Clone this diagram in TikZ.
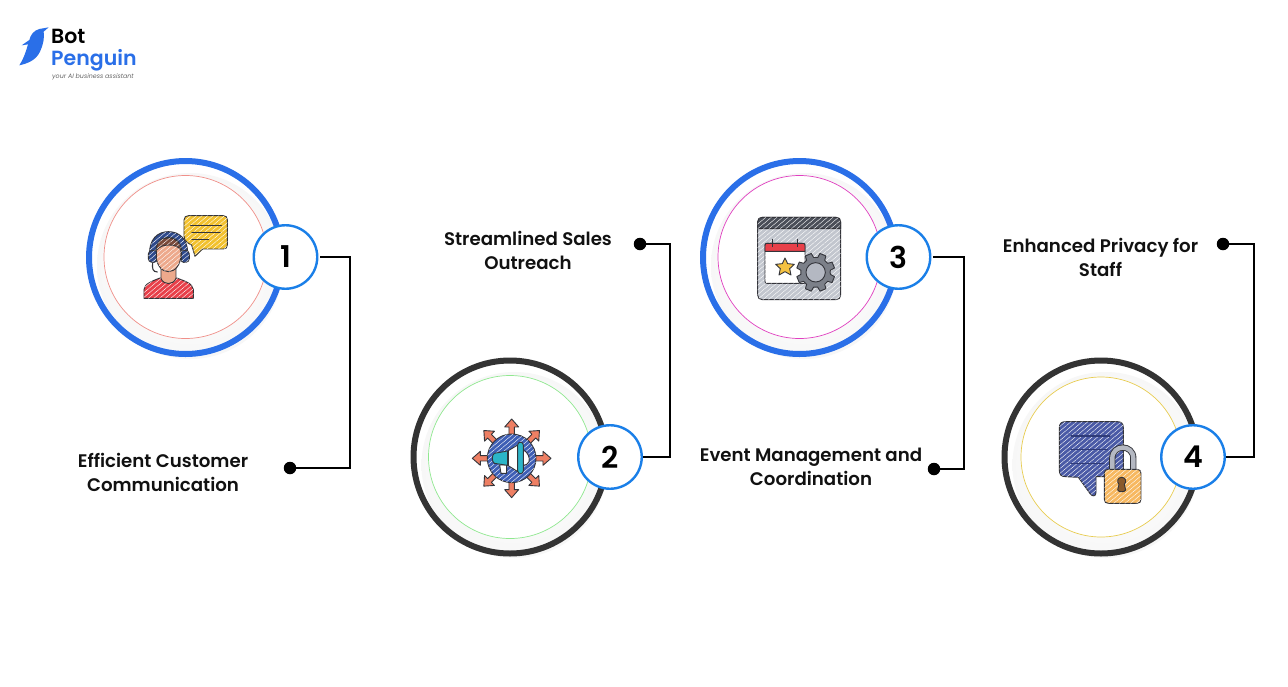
\documentclass[tikz,border=0pt]{standalone}
\usepackage{fontspec}
\setmainfont{Poppins SemiBold}
\newfontfamily\semi{Poppins SemiBold}
\newfontfamily\logoit{Poppins}[ItalicFont={* Italic}]
\usetikzlibrary{patterns.meta}
\definecolor{bpblue}{HTML}{2A6FE8}
\definecolor{ringdark}{HTML}{333333}
\definecolor{badgeblue}{HTML}{1A7FE8}
\definecolor{inkc}{HTML}{33343A}
\definecolor{labelc}{HTML}{111111}
\definecolor{cyellow}{HTML}{F2C12E}
\definecolor{cred}{HTML}{E8404A}
\definecolor{cnavy}{HTML}{2E4A8C}
\definecolor{cpeach}{HTML}{EDA98C}
\definecolor{cbrown}{HTML}{7A4A3A}
\definecolor{ccoral}{HTML}{EE7F63}
\definecolor{cglobe}{HTML}{3F5FB5}
\definecolor{cteal}{HTML}{2BB5C8}
\definecolor{cwin}{HTML}{C2C6CE}
\definecolor{chead}{HTML}{4A4E58}
\definecolor{cgear}{HTML}{7C8089}
\definecolor{cgearin}{HTML}{B4B8C2}
\definecolor{cstar}{HTML}{F5C242}
\definecolor{cbub}{HTML}{4A5AA6}
\definecolor{cbubline}{HTML}{2F3B78}
\definecolor{clock}{HTML}{F7B860}
\definecolor{ckey}{HTML}{8A5A2B}
\definecolor{cin1}{HTML}{F0908A}
\definecolor{cin2}{HTML}{90E890}
\definecolor{cin3}{HTML}{E040C0}
\definecolor{cin4}{HTML}{E8CC50}
\pgfdeclareradialshading{ringshade}{\pgfpoint{0bp}{0bp}}{color(0bp)=(white);color(41bp)=(black!5);color(45bp)=(black!8);color(48bp)=(black!3);color(50bp)=(white)}
\tikzset{
  ringbase/.style={circle,line width=6pt,minimum size=193pt,inner sep=0pt,fill=none},
  shadowdisk/.style={shading=ringshade,draw=none},
  innerdisk/.style={circle,line width=.7pt,minimum size=163pt,inner sep=0pt,fill=white},
  badge/.style={circle,draw=badgeblue,line width=2.4pt,fill=white,minimum size=63.5pt,inner sep=0pt,
     font=\semi\fontsize{30}{31}\selectfont,text=black},
  dotend/.style={circle,fill=black,minimum size=12.5pt,inner sep=0pt},
  conn/.style={draw=black,line width=1.8pt,line join=miter},
  lab/.style={align=center,text=labelc,inner sep=0pt,font=\fontsize{18.2}{24}\selectfont},
  sketch/.style={draw=inkc,line width=.9pt,line join=round,fill=#1,
     postaction={pattern={Lines[angle=40,distance=3.6pt,line width=.4pt]},pattern color=white}},
  solidsk/.style={draw=inkc,line width=.9pt,line join=round,fill=#1},
  stroke/.style={draw=inkc,line width=1.1pt,line cap=round},
}
\begin{document}
\begin{tikzpicture}[x=1pt,y=-1pt]
\useasboundingbox (0,0) rectangle (1288,686);
\fill[white] (0,0) rectangle (1288,686);

% logo
\begin{scope}[shift={(0,10)},x=.3333pt,y=-.3333pt]
\fill[bpblue] (146,52) -- (118,57) .. controls (100,62) and (92,75) .. (88,90)
  -- (65,106) -- (84,103) .. controls (78,125) and (70,148) .. (58,166)
  .. controls (85,160) and (108,150) .. (120,125) .. controls (130,105) and (134,80) .. (131,65) -- cycle;
\end{scope}
\node[anchor=base west,inner sep=0pt,text=black,font=\semi\fontsize{20.5}{21}\selectfont] (logoA) at (51,43) {Bot};
\node[anchor=base west,inner sep=0pt,text=bpblue,font=\semi\fontsize{20.5}{21}\selectfont] (logoB) at (51,65.5) {Penguin};
\node[anchor=base west,inner sep=0pt,text=black!60,font=\logoit\itshape\fontsize{6.3}{7}\selectfont] (logoC) at (52,78.5) {your AI business assistant};

% group 1
\shade[shadowdisk] (190,266) circle[radius=93];
\node[ringbase,draw=bpblue] (r1) at (185.5,257.5) {};
\node[innerdisk,draw=cin1] (i1) at (185.5,257) {};
% group 2
\shade[shadowdisk] (514.5,465) circle[radius=93];
\node[ringbase,draw=ringdark] (r2) at (510,457) {};
\node[innerdisk,draw=cin2] (i2) at (510,457) {};
% group 3
\shade[shadowdisk] (804,266) circle[radius=93];
\node[ringbase,draw=bpblue] (r3) at (799.5,257.5) {};
\node[innerdisk,draw=cin3] (i3) at (799.5,257) {};
% group 4
\shade[shadowdisk] (1105.5,465) circle[radius=93];
\node[ringbase,draw=ringdark] (r4) at (1101,457) {};
\node[innerdisk,draw=cin4,minimum size=160pt] (i4) at (1101,457) {};

% icon 1
\begin{scope}[shift={(80,150)},x=.3333pt,y=-.3333pt]
\path[sketch=cyellow] (326,197) -- (430,197) .. controls (438,197) and (442,201) .. (442,209) -- (442,285)
  .. controls (442,293) and (438,297) .. (430,297) -- (368,297) -- (345,319) -- (335,285) .. controls (322,280) and (312,270) .. (312,258)
  -- (312,210) .. controls (312,201) and (318,197) .. (326,197) -- cycle;
\draw[stroke] (332,226) -- (424,226);
\draw[stroke] (336,248) -- (420,248);
\draw[stroke] (336,268) -- (386,268);
\path[sketch=cred] (192,445) -- (192,418) .. controls (194,400) and (220,392) .. (240,384)
  -- (290,384) .. controls (312,392) and (338,400) .. (340,418) -- (340,445) -- cycle;
\path[solidsk=cpeach] (243,345) -- (243,385) .. controls (250,406) and (280,406) .. (288,385) -- (288,345) -- cycle;
\path[sketch=cnavy] (209,320) .. controls (205,265) and (235,245) .. (265,245) .. controls (297,245) and (326,265) .. (323,320)
  -- (307,320) .. controls (307,280) and (290,262) .. (265,262) .. controls (240,262) and (226,280) .. (226,320) -- cycle;
\path[sketch=cpeach] (265,268) .. controls (290,268) and (304,285) .. (303,315) .. controls (302,345) and (285,365) .. (265,365)
  .. controls (245,365) and (229,345) .. (228,315) .. controls (227,285) and (240,268) .. (265,268) -- cycle;
\path[sketch=cbrown] (230,300) .. controls (228,275) and (245,264) .. (265,264) .. controls (288,264) and (303,278) .. (303,300)
  .. controls (290,280) and (245,280) .. (230,300) -- cycle;
\path[sketch=cnavy] (205,312) .. controls (205,302) and (222,298) .. (229,304) -- (229,334) .. controls (222,340) and (205,338) .. (205,326) -- cycle;
\path[sketch=cnavy] (328,312) .. controls (328,302) and (311,298) .. (304,304) -- (304,334) .. controls (311,340) and (328,338) .. (328,326) -- cycle;
\draw[stroke] (218,338) .. controls (216,355) and (218,366) .. (232,366);
\end{scope}

% icon 2
\begin{scope}[shift={(405,350)},x=.3333pt,y=-.3333pt]
\foreach \a in {0,45,...,315}{
  \path[shift={(320,325)},rotate=\a,solidsk=ccoral]
    (66,-8) -- (94,-8) -- (94,-21) -- (118,0) -- (94,21) -- (94,8) -- (66,8) -- cycle;
}
\path[sketch=cglobe] (320,325) circle[radius=73];
\path[solidsk=white] (310,302) -- (340,284) -- (340,366) -- (310,347) -- cycle;
\path[solidsk=white] (284,345) -- (305,345) -- (305,370) -- (288,370) -- cycle;
\path[solidsk=cteal] (268,310) -- (308,303) -- (308,346) -- (268,340) .. controls (260,335) and (260,315) .. (268,310) -- cycle;
\path[solidsk=white] (355,300) .. controls (368,305) and (376,325) .. (372,335) .. controls (370,342) and (362,346) .. (355,346) -- cycle;
\path[solidsk=cteal] (338,285) .. controls (338,274) and (355,274) .. (355,285) -- (355,362) .. controls (355,374) and (338,374) .. (338,362) -- cycle;
\end{scope}

% icon 3
\begin{scope}[shift={(695,150)},x=.3333pt,y=-.3333pt]
\path[sketch=cwin] (202,202) -- (423,202) .. controls (432,202) and (437,207) .. (437,216) -- (437,435)
  .. controls (437,444) and (432,449) .. (423,449) -- (202,449) .. controls (193,449) and (188,444) .. (188,435) -- (188,216)
  .. controls (188,207) and (193,202) .. (202,202) -- cycle;
\path[sketch=chead] (202,202) -- (423,202) .. controls (432,202) and (437,207) .. (437,216) -- (437,236) -- (188,236) -- (188,216)
  .. controls (188,207) and (193,202) .. (202,202) -- cycle;
\path[sketch=white] (216,280) -- (324,280) .. controls (328,280) and (330,282) .. (330,286) -- (330,400) -- (216,400) .. controls (212,400) and (210,398) .. (210,394) -- (210,286) .. controls (210,282) and (212,280) .. (216,280) -- cycle;
\path[solidsk=cred] (216,280) -- (324,280) .. controls (328,280) and (330,282) .. (330,286) -- (330,304) -- (210,304) -- (210,286) .. controls (210,282) and (212,280) .. (216,280) -- cycle;
\draw[stroke] (232,268) -- (232,290);
\draw[stroke] (308,268) -- (308,290);
\path[solidsk=cstar] (270,324) -- (278,341) -- (298,343) -- (284,356) -- (288,375) -- (270,365) -- (252,375) -- (256,356) -- (242,343) -- (262,341) -- cycle;
\path[shift={(362,367)},solidsk=cgear]
  (0:43) \foreach \t in {0,45,...,315}{
    -- ({\t+8}:45) -- ({\t+13}:58) -- ({\t+32}:58) -- ({\t+37}:45)
  } -- cycle;
\path[solidsk=cgearin] (362,367) circle[radius=29];
\end{scope}

% icon 4
\begin{scope}[shift={(995,350)},x=.3333pt,y=-.3333pt]
\path[sketch=cbub] (211,215) -- (367,215) .. controls (379,215) and (385,221) .. (385,233) -- (385,362)
  .. controls (385,374) and (379,380) .. (367,380) -- (303,380) -- (303,428) .. controls (303,440) and (292,440) .. (286,432)
  -- (250,382) -- (211,380) .. controls (199,380) and (193,374) .. (193,362) -- (193,233) .. controls (193,221) and (199,215) .. (211,215) -- cycle;
\draw[stroke,draw=cbubline] (228,258) -- (345,258);
\draw[stroke,draw=cbubline] (228,298) -- (337,298);
\draw[stroke,draw=cbubline] (228,340) -- (327,340);
\draw[draw=inkc,line width=6.2pt] (352,360) -- (352,325) .. controls (352,282) and (415,282) .. (415,325) -- (415,360);
\draw[draw=cgearin,line width=4.4pt] (352,360) -- (352,325) .. controls (352,282) and (415,282) .. (415,325) -- (415,360);
\path[sketch=clock] (340,358) -- (426,358) .. controls (434,358) and (438,362) .. (438,370) -- (438,448)
  .. controls (438,456) and (434,460) .. (426,460) -- (340,460) .. controls (332,460) and (328,456) .. (328,448) -- (328,370)
  .. controls (328,362) and (332,358) .. (340,358) -- cycle;
\path[solidsk=ckey] (380,382) .. controls (392,382) and (396,395) .. (388,403) -- (392,420) .. controls (390,427) and (370,427) .. (368,420) -- (372,403) .. controls (364,395) and (368,382) .. (380,382) -- cycle;
\end{scope}

% badges
\node[badge] (b1) at (285.5,257) {1};
\node[badge] (b2) at (610,457) {2};
\node[badge] (b3) at (898.5,257) {3};
\node[badge] (b4) at (1193,457) {4};

% labels
\node[lab] (t1) at (163,472) {Efficient Customer\\Communication};
\node[lab] (t2) at (528,250.5) {Streamlined Sales\\Outreach};
\node[lab] (t3) at (811,467) {Event Management and\\Coordination};
\node[lab] (t4) at (1100.5,257) {Enhanced Privacy for\\Staff};

% end dots and elbows
\node[dotend] (d1) at (290,468) {};
\node[dotend] (d2) at (640,244) {};
\node[dotend] (d3) at (934,469) {};
\node[dotend] (d4) at (1223,244) {};
\coordinate (e1) at (350,360);
\coordinate (e2) at (670,350);
\coordinate (e3) at (964,360);
\coordinate (e4) at (1254,350);

% connectors
\draw[conn,shorten <=2pt] (b1.east) -| (e1) |- (d1);
\draw[conn] (b2.east) -| (e2) |- (d2);
\draw[conn,shorten <=1.5pt] (b3.east) -| (e3) |- (d3);
\draw[conn] (b4.east) -| (e4) |- (d4);
\end{tikzpicture}
\end{document}
